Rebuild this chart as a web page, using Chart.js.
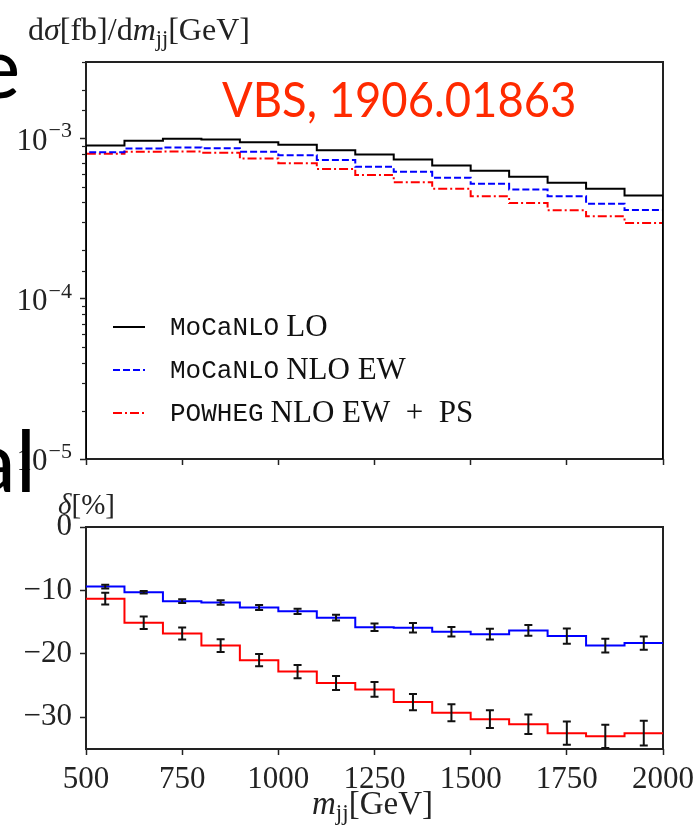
<!DOCTYPE html>
<html>
<head>
<meta charset="utf-8">
<script src="https://cdn.jsdelivr.net/npm/chart.js@4"></script>
<style>
  body { margin: 0; background: #fff; }
  #page { position: relative; width: 695px; height: 827px; overflow: hidden; background: #fff; }
  .box { position: absolute; left: 0; width: 695px; }
  .lbl { position: absolute; font-family: 'Liberation Serif', serif; color: #222; line-height: 1; white-space: nowrap; }
  .lbl sub { font-size: 0.7em; vertical-align: -0.25em; }
  .slide { position: absolute; font-family: Lato, sans-serif; font-size: 86px; color: #000; line-height: 1; white-space: nowrap; }
</style>
</head>
<body>
<div id="page">
  <div class="box" style="top:0; height:480px"><canvas id="topChart"></canvas></div>
  <div class="box" style="top:480px; height:347px"><canvas id="ratioChart"></canvas></div>

  <div class="lbl" style="left:28px; top:13px; font-size:32px">d<i>σ</i>[fb]/d<i>m</i><sub>jj</sub>[GeV]</div>
  <div class="lbl" style="left:58px; top:490px; font-size:29px"><i>δ</i>[%]</div>
  <div class="lbl" style="left:312px; top:787px; font-size:33px"><i>m</i><sub>jj</sub>[GeV]</div>
  <div id="tag" style="position:absolute; left:222px; top:75px; font-family:Lato, sans-serif; font-size:48px; color:#ff2a00; line-height:1; white-space:nowrap; transform:scaleX(0.946); transform-origin:left top">VBS, 1906.01863</div>

  <div class="slide" style="left:-25px; top:22px">e</div>
  <div class="slide" style="left:-27px; top:416px">al</div>
</div>

<script>
// bin edges in m_jj [GeV]
const edges = [500, 600, 700, 800, 900, 1000, 1100, 1200, 1300, 1400, 1500, 1600, 1700, 1800, 1900, 2000];
const xTicks = [500, 750, 1000, 1250, 1500, 1750, 2000];

// dsigma/dm_jj [fb/GeV]
const moLO  = [9.04e-4, 9.67e-4, 9.96e-4, 9.86e-4, 9.48e-4, 9.13e-4, 8.45e-4, 7.94e-4, 7.39e-4, 6.78e-4, 6.28e-4, 5.76e-4, 5.29e-4, 4.85e-4, 4.40e-4];
const moNLO = [8.21e-4, 8.66e-4, 8.79e-4, 8.70e-4, 8.26e-4, 7.86e-4, 7.34e-4, 6.65e-4, 6.19e-4, 5.68e-4, 5.21e-4, 4.80e-4, 4.36e-4, 3.91e-4, 3.58e-4];
const pwNLO = [8.02e-4, 8.26e-4, 8.29e-4, 8.14e-4, 7.50e-4, 7.01e-4, 6.45e-4, 5.91e-4, 5.33e-4, 4.85e-4, 4.36e-4, 3.96e-4, 3.56e-4, 3.27e-4, 2.97e-4];

// relative corrections delta [%] and their errors
const deltaMo    = [-9.4, -10.3, -11.7, -11.9, -12.7, -13.3, -14.3, -15.8, -15.9, -16.5, -16.9, -16.3, -17.2, -18.7, -18.3];
const deltaMoErr = [0.3, 0.2, 0.3, 0.35, 0.4, 0.4, 0.45, 0.6, 0.75, 0.75, 0.85, 0.85, 1.2, 1.1, 1.05];
const deltaPw    = [-11.3, -15.1, -16.8, -18.7, -21.0, -22.8, -24.6, -25.6, -27.6, -29.3, -30.3, -31.1, -32.5, -33.0, -32.5];
const deltaPwErr = [0.92, 0.97, 0.95, 1.0, 0.97, 1.05, 1.1, 1.18, 1.29, 1.34, 1.4, 1.53, 1.84, 1.84, 1.95];

const yMinTop = 1e-5, yMaxTop = 3e-3;
const topTickPowers = [-5, -4, -3];
const topTickBase = '10';
const topTickExp = ['\u22125', '\u22124', '\u22123'];
const ratioTicks = [0, -10, -20, -30];

const legendCode = ['MoCaNLO', 'MoCaNLO', 'POWHEG'];
const legendText = ['LO', 'NLO EW', 'NLO EW\u2002+\u2002PS'];

const axisColor = '#222';
const serif = "'Liberation Serif', serif";
const tickFont = { family: serif, size: 31 };

// step histogram points: left edge of every bin, closed on the right edge
function histPoints(values, floor) {
    const pts = [];
    if (floor !== undefined) pts.push({ x: edges[0], y: floor });
    values.forEach((v, i) => pts.push({ x: edges[i], y: v }));
    pts.push({ x: edges[edges.length - 1], y: values[values.length - 1] });
    if (floor !== undefined) pts.push({ x: edges[edges.length - 1], y: floor });
    return pts;
}

function isPow10(v) {
    const l = Math.log10(v);
    return Math.abs(l - Math.round(l)) < 1e-9;
}

const framePlugin = {
    id: 'frame',
    beforeDatasetsDraw(chart) {
        const a = chart.chartArea, c = chart.ctx;
        c.save();
        c.strokeStyle = axisColor;
        c.lineWidth = 2;
        c.strokeRect(a.left, a.top, a.right - a.left, a.bottom - a.top);
        c.restore();
    }
};

// short minor ticks and 10^n labels on the log axis
const logAxisDecor = {
    id: 'logAxisDecor',
    afterDraw(chart) {
        const s = chart.scales.y, c = chart.ctx, left = chart.chartArea.left;
        c.save();
        c.strokeStyle = axisColor;
        c.fillStyle = axisColor;
        c.lineWidth = 1.2;
        s.ticks.forEach(t => {
            const y = s.getPixelForValue(t.value);
            const k = topTickPowers.findIndex(p => Math.abs(Math.log10(t.value) - p) < 1e-9);
            if (k >= 0) {
                const xr = left - 14;
                c.textAlign = 'right';
                c.textBaseline = 'middle';
                c.font = '22px ' + serif;
                c.fillText(topTickExp[k], xr, y - 7);
                const ew = c.measureText(topTickExp[k]).width;
                c.font = '31px ' + serif;
                c.fillText(topTickBase, xr - ew - 1, y + 3);
                return;
            }
            if (isPow10(t.value)) return;
            const yy = Math.round(y) + 0.5;
            c.beginPath();
            c.moveTo(left - 4, yy);
            c.lineTo(left, yy);
            c.stroke();
        });
        c.restore();
    }
};

const legendPlugin = {
    id: 'texLegend',
    afterDraw(chart) {
        const c = chart.ctx, a = chart.chartArea;
        c.save();
        chart.data.datasets.forEach((ds, i) => {
            const y = a.top + 265 + i * 43;
            c.strokeStyle = ds.borderColor;
            c.lineWidth = 2;
            c.setLineDash(ds.borderDash || []);
            c.beginPath();
            c.moveTo(a.left + 27, y);
            c.lineTo(a.left + 59, y);
            c.stroke();
            c.setLineDash([]);
            c.fillStyle = '#111';
            c.textBaseline = 'middle';
            c.font = "26px 'Liberation Mono', monospace";
            const x0 = a.left + 84;
            c.fillText(legendCode[i], x0, y + 1);
            const w = c.measureText(legendCode[i]).width + 7;
            c.font = '31px ' + serif;
            c.fillText(legendText[i], x0 + w, y + 1);
        });
        c.restore();
    }
};

const errorBars = {
    id: 'errorBars',
    afterDatasetsDraw(chart) {
        const c = chart.ctx, sx = chart.scales.x, sy = chart.scales.y;
        c.save();
        c.strokeStyle = '#111';
        c.lineWidth = 2;
        chart.data.datasets.forEach(ds => {
            ds.centralValues.forEach((v, i) => {
                const x = sx.getPixelForValue((edges[i] + edges[i + 1]) / 2);
                const y1 = sy.getPixelForValue(v + ds.errors[i]);
                const y2 = sy.getPixelForValue(v - ds.errors[i]);
                c.beginPath();
                c.moveTo(x, y1); c.lineTo(x, y2);
                c.moveTo(x - 4, y1); c.lineTo(x + 4, y1);
                c.moveTo(x - 4, y2); c.lineTo(x + 4, y2);
                c.stroke();
            });
        });
        c.restore();
    }
};

const gridOpts = { drawOnChartArea: false, drawTicks: true, tickLength: 6, tickWidth: 1.5, tickColor: axisColor };
const noSidePadding = s => { s.paddingLeft = 0; s.paddingRight = 0; };

new Chart(document.getElementById('topChart'), {
    type: 'line',
    data: {
        datasets: [{
            label: 'MoCaNLO LO',
            data: histPoints(moLO, yMinTop),
            borderColor: '#000000',
            borderWidth: 2
        }, {
            label: 'MoCaNLO NLO EW',
            data: histPoints(moNLO, yMinTop),
            borderColor: '#0000ff',
            borderWidth: 2,
            borderDash: [7, 3]
        }, {
            label: 'POWHEG NLO EW + PS',
            data: histPoints(pwNLO, yMinTop),
            borderColor: '#ff0000',
            borderWidth: 2,
            borderDash: [9, 3, 2, 3]
        }]
    },
    options: {
        responsive: true,
        maintainAspectRatio: false,
        animation: false,
        layout: { padding: { left: 0, right: 32, top: 62, bottom: 0 } },
        elements: { point: { radius: 0 }, line: { stepped: 'before', tension: 0, fill: false } },
        plugins: { legend: { display: false }, tooltip: { enabled: false } },
        scales: {
            x: {
                type: 'linear', min: 500, max: 2000,
                afterBuildTicks: s => { s.ticks = xTicks.map(v => ({ value: v })); },
                afterFit: s => { s.height = 21; noSidePadding(s); },
                ticks: { display: false },
                border: { display: false },
                grid: gridOpts
            },
            y: {
                type: 'logarithmic', min: yMinTop, max: yMaxTop,
                afterFit: s => { s.width = 86; s.paddingTop = 0; s.paddingBottom = 0; },
                ticks: { display: false },
                border: { display: false },
                grid: Object.assign({}, gridOpts, {
                    tickColor: c => (c.tick && isPow10(c.tick.value)) ? axisColor : 'rgba(0,0,0,0)'
                })
            }
        }
    },
    plugins: [framePlugin, logAxisDecor, legendPlugin]
});

new Chart(document.getElementById('ratioChart'), {
    type: 'line',
    data: {
        datasets: [{
            label: 'MoCaNLO NLO EW',
            data: histPoints(deltaMo),
            centralValues: deltaMo,
            errors: deltaMoErr,
            borderColor: '#0000ff',
            borderWidth: 2
        }, {
            label: 'POWHEG NLO EW + PS',
            data: histPoints(deltaPw),
            centralValues: deltaPw,
            errors: deltaPwErr,
            borderColor: '#ff0000',
            borderWidth: 2
        }]
    },
    options: {
        responsive: true,
        maintainAspectRatio: false,
        animation: false,
        layout: { padding: { left: 0, right: 32, top: 47, bottom: 0 } },
        elements: { point: { radius: 0 }, line: { stepped: 'before', tension: 0, fill: false } },
        plugins: { legend: { display: false }, tooltip: { enabled: false } },
        scales: {
            x: {
                type: 'linear', min: 500, max: 2000,
                afterBuildTicks: s => { s.ticks = xTicks.map(v => ({ value: v })); },
                afterFit: s => { s.height = 78; noSidePadding(s); },
                ticks: {
                    autoSkip: false, maxRotation: 0, padding: 6, color: axisColor, font: tickFont,
                    callback: v => String(v)
                },
                border: { display: false },
                grid: gridOpts
            },
            y: {
                type: 'linear', min: -35, max: 0,
                afterBuildTicks: s => { s.ticks = ratioTicks.map(v => ({ value: v })); },
                afterFit: s => { s.width = 86; s.paddingTop = 0; s.paddingBottom = 0; },
                ticks: {
                    autoSkip: false, padding: 8, color: axisColor, font: tickFont,
                    callback: v => v < 0 ? '\u2212' + Math.abs(v) : String(v)
                },
                border: { display: false },
                grid: gridOpts
            }
        }
    },
    plugins: [framePlugin, errorBars]
});
</script>
</body>
</html>
